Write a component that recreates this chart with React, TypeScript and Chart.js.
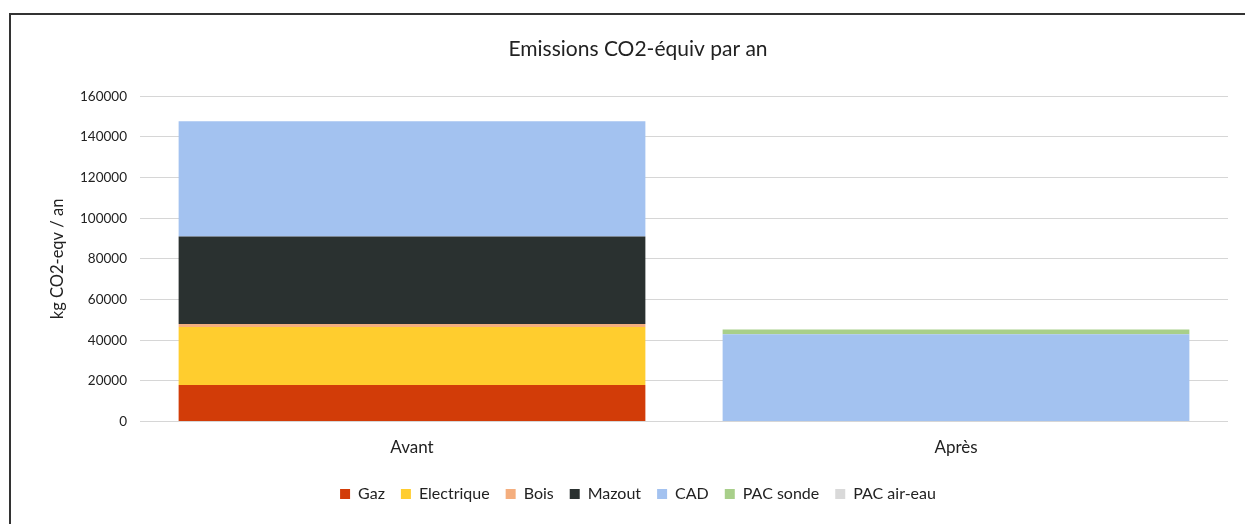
import React, { useEffect, useRef } from "react";
import { Chart, registerables } from "chart.js";

Chart.register(...registerables);

const categories = ["Avant", "Après"];
const gaz = [18000, 0];
const electrique = [28500, 0];
const bois = [1500, 0];
const mazout = [43000, 0];
const cad = [56700, 43000];
const pacSonde = [0, 2300];
const pacAirEau = [0, 0];
const yTicks = [0, 20000, 40000, 60000, 80000, 100000, 120000, 140000, 160000];

const FONT = "Lato, 'Open Sans', sans-serif";

export default function App() {
  const ref = useRef<HTMLCanvasElement | null>(null);
  useEffect(() => {
    if (!ref.current) return;
    const mk = (label: string, data: number[], color: string) => ({
      label,
      data,
      backgroundColor: color,
      borderWidth: 0,
      barPercentage: 0.858,
      categoryPercentage: 1,
    });
    const chart = new Chart(ref.current, {
      type: "bar",
      data: {
        labels: categories,
        datasets: [
          mk("Gaz", gaz, "#d23c08"),
          mk("Electrique", electrique, "#ffcd2e"),
          mk("Bois", bois, "#f4ae7e"),
          mk("Mazout", mazout, "#2a3130"),
          mk("CAD", cad, "#a3c2f0"),
          mk("PAC sonde", pacSonde, "#a8cf8a"),
          mk("PAC air-eau", pacAirEau, "#d9d9d9"),
        ],
      },
      options: {
        responsive: false,
        animation: false,
        layout: { padding: { left: 48, right: 17, top: 37, bottom: 12 } },
        plugins: {
          title: {
            display: true,
            text: "Emissions CO2-équiv par an",
            color: "#222",
            font: { family: FONT, size: 21, weight: "normal" },
            padding: { top: 0, bottom: 34 },
          },
          legend: {
            position: "bottom",
            labels: {
              boxWidth: 10,
              boxHeight: 10,
              color: "#222",
              padding: 16,
              font: { family: FONT, size: 16 },
            },
          },
          tooltip: { enabled: false },
        },
        scales: {
          x: {
            stacked: true,
            grid: { display: false },
            border: { display: false },
            ticks: { color: "#222", font: { family: FONT, size: 17 }, padding: 8 },
            afterFit: (s: any) => {
              s.height += 4;
            },
          },
          y: {
            stacked: true,
            min: 0,
            max: 160000,
            afterBuildTicks: (s: any) => {
              s.ticks = yTicks.map((v) => ({ value: v }));
            },
            afterFit: (s: any) => {
              s.width = 92;
            },
            grid: { color: "#d6d6d6", lineWidth: 1, drawTicks: false },
            border: { display: false },
            ticks: {
              color: "#222",
              font: { family: FONT, size: 13.5 },
              padding: 13,
              callback: (v: any) => String(v),
            },
            title: {
              display: true,
              text: "kg CO2-eqv / an",
              color: "#222",
              font: { family: FONT, size: 16.5 },
              padding: { top: 0, bottom: 0 },
            },
          },
        },
      },
    });
    return () => chart.destroy();
  }, []);
  return (
    <div style={{ position: "absolute", left: 0, top: 0, width: 1245, height: 524, overflow: "hidden", background: "#fff" }}>
      <canvas ref={ref} width={1245} height={524} style={{ position: "absolute", left: 0, top: 0 }} />
      <div
        style={{
          position: "absolute",
          left: 9,
          top: 13,
          width: 1240,
          height: 520,
          borderLeft: "2px solid #333",
          borderTop: "2px solid #333",
          pointerEvents: "none",
        }}
      />
    </div>
  );
}
